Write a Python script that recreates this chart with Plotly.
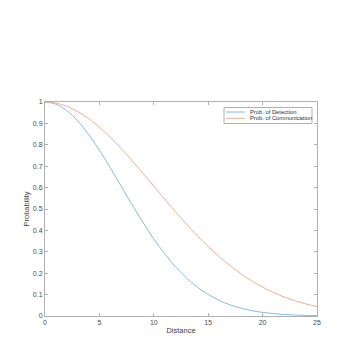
import plotly.graph_objects as go

# Distance samples and probabilities
distance = list(range(0, 26))
prob_detection = [1.000, 0.990, 0.960, 0.912, 0.849, 0.775, 0.693, 0.607, 0.520, 0.438,
                  0.360, 0.291, 0.230, 0.178, 0.135, 0.101, 0.073, 0.052, 0.037, 0.025,
                  0.017, 0.011, 0.007, 0.0045, 0.0028, 0.0017]
prob_communication = [1.000, 0.995, 0.980, 0.956, 0.923, 0.882, 0.835, 0.783, 0.726, 0.667,
                      0.607, 0.546, 0.487, 0.430, 0.375, 0.325, 0.278, 0.236, 0.198, 0.164,
                      0.135, 0.110, 0.089, 0.071, 0.056, 0.044]
series_names = ["Prob. of Detection", "Prob. of Communication"]
series_colors = ["#80bde9", "#efae94"]

x_ticks = [0, 5, 10, 15, 20, 25]
y_ticks = [0, 0.1, 0.2, 0.3, 0.4, 0.5, 0.6, 0.7, 0.8, 0.9, 1]
y_ticktext = ["0", "0.1", "0.2", "0.3", "0.4", "0.5", "0.6", "0.7", "0.8", "0.9", "1"]

# page body has an 8px margin, so the figure is offset by that much
OFF = 7
W, H = 348, 337
L, R, T, B = 44 - OFF, 32 + OFF, 101 - OFF, 22 + OFF

fig = go.Figure()

for ys, name, color in zip([prob_detection, prob_communication], series_names, series_colors):
    fig.add_trace(go.Scatter(
        x=distance, y=ys, mode="lines",
        line=dict(color=color, width=1, shape="spline"),
        name=name, showlegend=False,
    ))

axis_style = dict(
    showgrid=False, zeroline=False, automargin=False,
    showline=True, linecolor="#b0b0b0", linewidth=1, mirror="ticks",
    ticks="inside", ticklen=3, tickcolor="#b0b0b0",
    tickfont=dict(size=7, color="#4a4a4a", family="Liberation Sans"),
)

# MATLAB-style compact legend box, positioned in page pixels
pw, ph = W - L - R, H - T - B
def px(x):
    return (x - OFF - L) / pw
def py(y):
    return 1 - (y - OFF - T) / ph

fig.add_shape(type="rect", xref="paper", yref="paper",
              x0=px(223), x1=px(311), y0=py(122.5), y1=py(106.5),
              line=dict(color="#b0b0b0", width=1), fillcolor="white", layer="above")
for i, (name, color) in enumerate(zip(series_names, series_colors)):
    yy = 111 + i * 6.3
    fig.add_shape(type="line", xref="paper", yref="paper",
                  x0=px(225), x1=px(244), y0=py(yy), y1=py(yy),
                  line=dict(color=color, width=1), layer="above")
    fig.add_annotation(x=px(246.5), y=py(yy), xref="paper", yref="paper",
                       text=name, showarrow=False, xanchor="left", yanchor="middle",
                       font=dict(size=5.8, color="#303030", family="Liberation Sans"))

fig.update_layout(
    width=W, height=H,
    margin=dict(l=L, r=R, t=T, b=B),
    plot_bgcolor="white", paper_bgcolor="white",
    xaxis=dict(range=[0, 25], tickvals=x_ticks, **axis_style,
               title=dict(text="Distance", standoff=2,
                          font=dict(size=7.5, color="#404040", family="Liberation Sans"))),
    yaxis=dict(range=[0, 1], tickvals=y_ticks, ticktext=y_ticktext, **axis_style,
               title=dict(text="Probability", standoff=2,
                          font=dict(size=7.5, color="#404040", family="Liberation Sans"))),
    showlegend=False,
)

fig.write_html("out.html")
